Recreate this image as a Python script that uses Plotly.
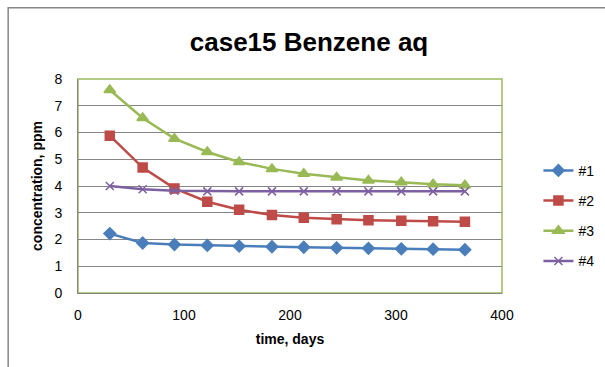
import plotly.graph_objects as go

days = [30, 61, 91, 122, 152, 183, 213, 244, 274, 305, 335, 365]
s1 = [2.22, 1.87, 1.81, 1.78, 1.75, 1.73, 1.71, 1.69, 1.67, 1.65, 1.64, 1.62]
s2 = [5.88, 4.69, 3.91, 3.41, 3.11, 2.92, 2.81, 2.76, 2.72, 2.70, 2.68, 2.66]
s3 = [7.59, 6.54, 5.77, 5.27, 4.90, 4.64, 4.46, 4.32, 4.21, 4.14, 4.07, 4.03]
s4 = [4.00, 3.88, 3.82, 3.80, 3.80, 3.80, 3.80, 3.80, 3.80, 3.80, 3.80, 3.80]
names = ["#1", "#2", "#3", "#4"]
colors = ["#4A7EBB", "#BE4B48", "#98B954", "#7D60A0"]
symbols = ["diamond", "square", "triangle-up", "x-thin"]
sizes = [9, 9, 10, 8]

fig = go.Figure()
for i, ys in enumerate([s1, s2, s3, s4]):
    fig.add_trace(go.Scatter(
        x=days, y=ys, name=names[i], mode="lines+markers",
        line=dict(color=colors[i], width=2.5),
        marker=dict(symbol=symbols[i], size=sizes[i], color=colors[i],
                    line=dict(color=colors[i], width=1.5)),
        legendgroup=names[i],
    ))

L, R, T, B = 77.5, 502.5, 79, 293.5
W, H = R - L, B - T

def px(x):
    return (x - L) / W

def py(y):
    return (B - y) / H

fig.update_layout(
    width=605, height=367,
    margin=dict(l=77.5, r=605 - 502.5, t=79, b=367 - 293.5, autoexpand=False),
    paper_bgcolor="white", plot_bgcolor="white",
    font=dict(family="Liberation Sans, Arial, sans-serif", size=14, color="black"),
    title=dict(text="<b>case15 Benzene aq</b>", x=309 / 605, xanchor="center",
               yref="container", y=1 - 42 / 367, yanchor="middle",
               font=dict(size=26, color="black")),
    xaxis=dict(range=[0, 400], tickvals=[0, 100, 200, 300, 400], showgrid=False,
               showline=True, linecolor="#868686", linewidth=1, zeroline=False,
               ticks="", ticklabelstandoff=9,
               title=dict(text="<b>time, days</b>", standoff=12, font=dict(size=14))),
    yaxis=dict(range=[0, 8], tickvals=list(range(9)), showgrid=True,
               gridcolor="#868686", gridwidth=1, showline=True, linecolor="#868686",
               linewidth=1, zeroline=False, ticks="", ticklabelstandoff=12,
               title=dict(text="<b>concentration, ppm</b>", standoff=8, font=dict(size=14))),
    legend=dict(x=px(539), xanchor="left", y=py(155), yanchor="top",
                bgcolor="rgba(0,0,0,0)", tracegroupgap=9, traceorder="grouped",
                font=dict(size=14)),
    showlegend=True,
    shapes=[
        dict(type="rect", xref="paper", yref="paper", x0=0, x1=1, y0=0, y1=1,
             line=dict(color="#9BBB59", width=1.5), layer="below"),
        dict(type="rect", xref="paper", yref="paper", x0=px(7.5), x1=px(640),
             y0=py(400), y1=py(7.5), line=dict(color="#868686", width=1.5), layer="below"),
    ],
)

fig.write_html("out.html")
